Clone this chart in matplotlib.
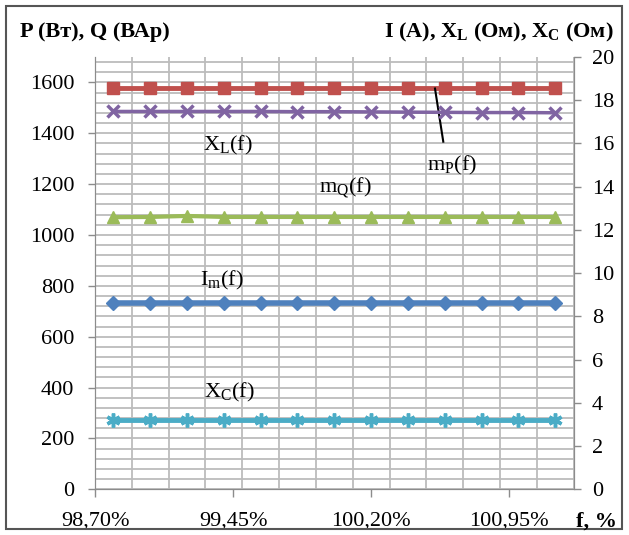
import numpy as np
import matplotlib
matplotlib.use("Agg")
import matplotlib.pyplot as plt
from matplotlib.patches import Rectangle
from matplotlib.ticker import MultipleLocator, FixedLocator, FuncFormatter

# частота, % (ось X)
f_pct = [98.8, 99.0, 99.2, 99.4, 99.6, 99.8, 100.0, 100.2, 100.4, 100.6, 100.8, 101.0, 101.2]
x_ticks = [98.70, 99.45, 100.20, 100.95]

# левая ось: P (Вт), Q (ВАр)
P = [1577, 1577, 1577, 1577, 1577, 1577, 1577, 1577, 1577, 1577, 1577, 1577, 1577]
Q = [1070, 1071, 1075, 1071, 1071, 1071, 1071, 1071, 1071, 1071, 1071, 1071, 1071]

# правая ось: I (A), X_L (Ом), X_C (Ом)
I_m = [8.64, 8.64, 8.64, 8.64, 8.64, 8.64, 8.64, 8.64, 8.64, 8.64, 8.64, 8.64, 8.64]
X_L = [17.48, 17.48, 17.48, 17.48, 17.48, 17.47, 17.47, 17.46, 17.45, 17.44, 17.43, 17.43, 17.42]
X_C = [3.21, 3.21, 3.21, 3.21, 3.21, 3.21, 3.21, 3.21, 3.21, 3.21, 3.21, 3.21, 3.21]

plt.rcParams['font.family'] = ['Liberation Serif', 'DejaVu Serif']
plt.rcParams['mathtext.fontset'] = 'custom'
plt.rcParams['mathtext.rm'] = 'Liberation Serif'
plt.rcParams['mathtext.bf'] = 'Liberation Serif:bold'

FS = 16
grid_c = '#bcbcbc'
axis_c = '#8c8c8c'

fig = plt.figure(figsize=(6.29, 5.35), dpi=100)
# рамка диаграммы
fig.patches.append(Rectangle((6/629, 6/535), 616/629, 523/535, transform=fig.transFigure,
                             fill=False, edgecolor='#555555', lw=1.5))

ax = fig.add_axes([95/629, 45.7/535, 478.6/629, 432.3/535])
ax2 = ax.twinx()

ax.set_xlim(98.7, 101.3)
ax.set_ylim(0, 1700)
ax2.set_ylim(0, 20)

ax.xaxis.set_major_locator(FixedLocator(x_ticks))
ax.xaxis.set_minor_locator(FixedLocator(np.arange(98.9, 101.31, 0.2)))
ax.xaxis.set_major_formatter(FuncFormatter(lambda v, p: f"{v:.2f}".replace('.', ',') + '%'))
ax.yaxis.set_major_locator(MultipleLocator(200))
ax.yaxis.set_minor_locator(MultipleLocator(40))
ax2.yaxis.set_major_locator(MultipleLocator(2))

# сетка
ax.set_axisbelow(True)
ax.grid(True, which='minor', color=grid_c, lw=1.3)
ax.grid(True, which='major', axis='y', color=grid_c, lw=1.3)
ax.tick_params(which='minor', length=0)

for a in (ax, ax2):
    a.spines['top'].set_visible(False)
    for s in ('left', 'right', 'bottom'):
        a.spines[s].set_color(axis_c)
    a.tick_params(colors=axis_c, labelcolor='black', labelsize=FS, length=5, width=1)
ax.tick_params(axis='x', pad=10, length=6)
ax.tick_params(axis='y', pad=10)
ax2.tick_params(axis='y', pad=8)

# линии
ax.plot(f_pct, P, color='#c0504d', lw=3.5, marker='s', ms=9, zorder=3)
ax.plot(f_pct, Q, color='#9bbb59', lw=3, marker='^', ms=8, zorder=3)
ax2.plot(f_pct, X_L, color='#8064a2', lw=2.5, marker='x', ms=8, mew=2.5, zorder=3)
ax2.plot(f_pct, I_m, color='#4f81bd', lw=4, marker='D', ms=7, zorder=3)
ax2.plot(f_pct, X_C, color='#4bacc6', lw=3.5, marker=(6, 2, 0), ms=10, mew=2.5, zorder=3)

# подписи кривых
ax.text(99.42, 1354, r'X$_\mathrm{L}$(f)', fontsize=FS, ha='center', va='center')
ax.text(100.64, 1275, r'm$_\mathrm{P}$(f)', fontsize=FS, ha='center', va='center')
ax.plot([100.547, 100.592], [1576, 1367], color='black', lw=1.5, zorder=4)
ax.text(100.06, 1185, r'm$_\mathrm{Q}$(f)', fontsize=FS, ha='center', va='center')
ax.text(99.39, 823, r'I$_\mathrm{m}$(f)', fontsize=FS, ha='center', va='center')
ax.text(99.43, 379, r'X$_\mathrm{C}$(f)', fontsize=FS, ha='center', va='center')

# названия осей
fig.text(20/629, 1 - 32/535, 'P (Вт), Q (ВАр)', fontsize=FS, fontweight='bold', va='center')
fig.text(614/629, 1 - 32/535, r'I (A), X$_\mathbf{L}$ (Ом), X$_\mathbf{C}$ (Ом)', fontsize=FS,
         fontweight='bold', va='center', ha='right')
fig.text(596/629, 1 - 522/535, 'f, %', fontsize=FS, fontweight='bold', va='center', ha='center')

fig.savefig('out.png', dpi=100)
